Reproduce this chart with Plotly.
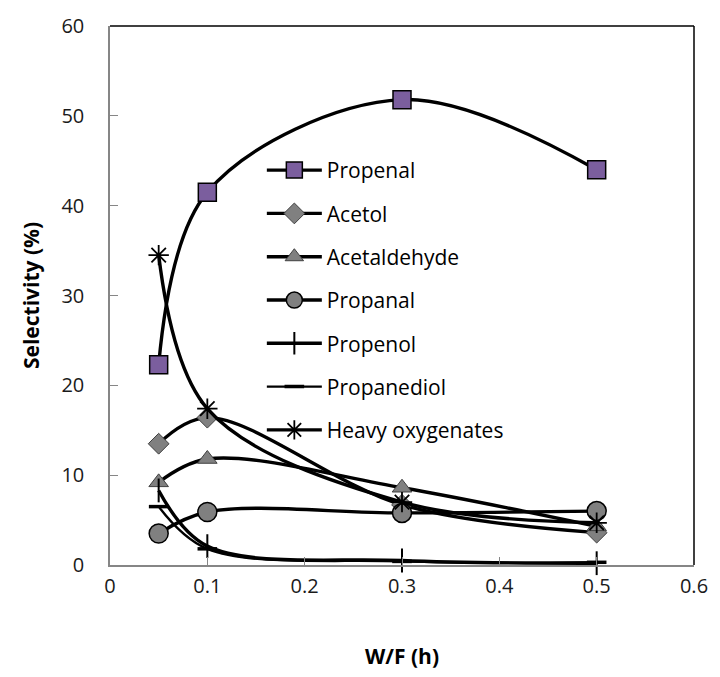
import plotly.graph_objects as go

# W/F (h) values and selectivity (%) of each product
wf = [0.05, 0.1, 0.3, 0.5]
propenal = [22.3, 41.5, 51.8, 44.0]
acetol = [13.5, 16.4, 6.7, 3.6]
acetaldehyde = [9.2, 11.8, 8.6, 4.3]
propanal = [3.5, 5.9, 5.8, 6.0]
propenol = [8.3, 2.1, 0.5, 0.2]
propanediol = [6.5, 1.8, 0.4, 0.3]
heavy = [34.5, 17.4, 7.0, 4.7]

GRAY = "#808080"
PURPLE = "#7B5E9E"
FONT = "'Open Sans', 'Noto Sans', sans-serif"

series = [
    ("Propenal", propenal, dict(symbol="square", size=18, color=PURPLE,
                                line=dict(color="black", width=1.5)), 3.4),
    ("Acetol", acetol, dict(symbol="diamond", size=16, color=GRAY,
                            line=dict(color="#404040", width=1)), 3.4),
    ("Acetaldehyde", acetaldehyde, dict(symbol="triangle-up", size=17, color=GRAY,
                                        line=dict(color="#404040", width=1)), 3.4),
    ("Propanal", propanal, dict(symbol="circle", size=19, color=GRAY,
                                line=dict(color="black", width=1.5)), 3.4),
    ("Propenol", propenol, dict(symbol="line-ns-open", size=17, color="black",
                                line=dict(color="black", width=2)), 3.4),
    ("Propanediol", propanediol, dict(symbol="line-ew-open", size=14, color="black",
                                      line=dict(color="black", width=3.5)), 2.4),
    ("Heavy oxygenates", heavy, dict(symbol="asterisk-open", size=17, color="black",
                                     line=dict(color="black", width=1.8)), 3.4),
]

fig = go.Figure()
for i, (name, ys, marker, lw) in enumerate(series):
    fig.add_trace(go.Scatter(
        x=wf, y=ys, name=name, mode="lines+markers",
        line=dict(color="black", width=lw, shape="spline", smoothing=1),
        marker=marker, cliponaxis=False, legendgroup=f"g{i}",
    ))

axis_common = dict(
    showgrid=False, zeroline=False, showline=True, linecolor="#868686",
    linewidth=1.5, ticks="inside", ticklen=8, tickcolor="#868686",
    tickfont=dict(family=FONT, size=20, color="#1a1a1a"),
)

fig.update_layout(
    width=720, height=677,
    margin=dict(l=110, r=20, t=18, b=111),
    paper_bgcolor="white", plot_bgcolor="white",
    xaxis=dict(range=[0, 0.6], dtick=0.1, tick0=0, ticklabelstandoff=2,
               title=dict(text="<b>W/F (h)</b>", standoff=52,
                          font=dict(family=FONT, size=21, color="black")),
               **axis_common),
    yaxis=dict(range=[0, 60], dtick=10, tick0=0, ticklabelstandoff=20,
               title=dict(text="<b>Selectivity (%)</b>", standoff=16,
                          font=dict(family=FONT, size=21, color="black")),
               **axis_common),
    legend=dict(x=0.26, y=0.77, xanchor="left", yanchor="top",
                bgcolor="rgba(0,0,0,0)", traceorder="grouped",
                tracegroupgap=13, itemwidth=55,
                font=dict(family=FONT, size=21, color="black")),
    shapes=[
        dict(type="line", xref="paper", yref="paper", x0=0, x1=1, y0=1, y1=1,
             line=dict(color="black", width=1.5)),
        dict(type="line", xref="paper", yref="paper", x0=1, x1=1, y0=0, y1=1,
             line=dict(color="black", width=1.5)),
    ],
)

fig.write_html("out.html")
